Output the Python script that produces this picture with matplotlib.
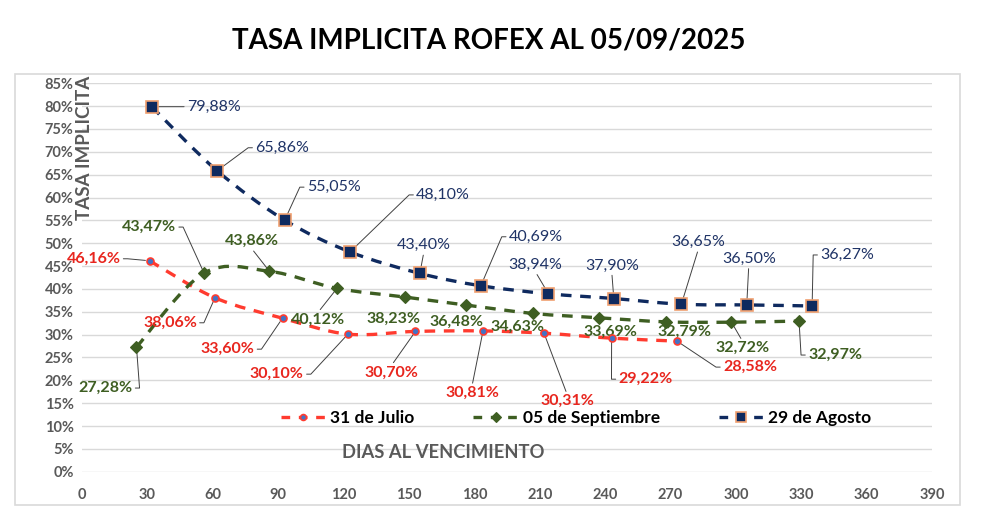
import matplotlib
matplotlib.use("Agg")
import matplotlib.pyplot as plt
from matplotlib.path import Path
from matplotlib.patches import PathPatch, Rectangle
import numpy as np

plt.rcParams['font.family'] = ['Lato', 'DejaVu Sans']

# ---------------- data ----------------
title = "TASA IMPLICITA ROFEX AL 05/09/2025"
series_names = ["31 de Julio", "05 de Septiembre", "29 de Agosto"]

julio_days = [31, 61, 92, 122, 153, 184, 212, 243, 273]
julio_vals = [46.16, 38.06, 33.60, 30.10, 30.70, 30.81, 30.31, 29.22, 28.58]

sept_days = [25, 56, 86, 117, 148, 176, 207, 237, 268, 298, 329]
sept_vals = [27.28, 43.47, 43.86, 40.12, 38.23, 36.48, 34.63, 33.69, 32.79, 32.72, 32.97]

agosto_days = [32, 62, 93, 123, 155, 183, 214, 244, 275, 305, 335]
agosto_vals = [79.88, 65.86, 55.05, 48.10, 43.40, 40.69, 38.94, 37.90, 36.65, 36.50, 36.27]

x_ticks = list(range(0, 391, 30))
y_ticks = list(range(0, 86, 5))

# ---------------- layout / style ----------------
# label offsets in pixels relative to each point (x right, y up)
julio_offsets = [(-56, 2), (-45, -25), (-55, -31), (-71, -40), (-24, -41),
                 (-11, -62), (23, -68), (34, -41), (73, -26)]
sept_offsets = [(-31, -41), (-55, 46), (-18, 30), (-19, -31), (-11, -22),
                (-9, -17), (-16, -13), (12, -14), (18, -10), (11, -26), (36, -34)]
agosto_offsets = [(62, 0), (65, 23), (49, 33), (93, 57), (4, 28), (55, 49),
                  (-13, 29), (-2, 33), (17, 62), (2, 46), (35, 51)]
sept_leader = [True, True, True, True, False, False, False, False, False, True, True]

RED = '#FF3B2F'
RED_TXT = '#E8261E'
GREEN = '#3E5E22'
NAVY = '#0F2A5F'
NAVY_TXT = '#1F3366'
GRAY = '#595959'

fig = plt.figure(figsize=(9.81, 5.27), dpi=100)
fig.patch.set_facecolor('white')
fig.patches.append(Rectangle((15 / 981, 1 - 505 / 527), 945 / 981, 431 / 527,
                             transform=fig.transFigure, fill=False,
                             edgecolor='#D9D9D9', linewidth=1.2, zorder=0))

ax = fig.add_axes([82 / 981, 1 - 471.7 / 527, 850 / 981, 388.4 / 527])
ax.set_xlim(0, 390)
ax.set_ylim(0, 85)
for s in ax.spines.values():
    s.set_visible(False)
ax.set_xticks(x_ticks)
ax.set_yticks(y_ticks)
ax.set_xticklabels([str(v) for v in x_ticks])
ax.set_yticklabels([f"{v}%" for v in y_ticks])
ax.tick_params(length=0, labelsize=10.5, labelcolor=GRAY, pad=6)
for lab in ax.get_xticklabels() + ax.get_yticklabels():
    lab.set_fontweight('bold')
ax.xaxis.set_tick_params(pad=12)
ax.grid(axis='y', color='#D9D9D9', linewidth=1.0, zorder=0)
ax.set_axisbelow(True)


def smooth_path(xs, ys):
    xs = np.asarray(xs, float)
    ys = np.asarray(ys, float)
    n = len(xs)
    verts = [(xs[0], ys[0])]
    codes = [Path.MOVETO]
    for i in range(n - 1):
        x0, y0 = (xs[i - 1], ys[i - 1]) if i > 0 else (xs[i], ys[i])
        x1, y1 = xs[i], ys[i]
        x2, y2 = xs[i + 1], ys[i + 1]
        x3, y3 = (xs[i + 2], ys[i + 2]) if i + 2 < n else (x2, y2)
        c1 = (x1 + (x2 - x0) / 6, y1 + (y2 - y0) / 6)
        c2 = (x2 - (x3 - x1) / 6, y2 - (y3 - y1) / 6)
        verts += [c1, c2, (x2, y2)]
        codes += [Path.CURVE4] * 3
    return Path(verts, codes)


def draw_series(days, vals, color, dashes, lw, marker, ms, mfc, mec, mew, label):
    patch = PathPatch(smooth_path(days, vals), fill=False, edgecolor=color,
                      linewidth=lw, linestyle=(0, dashes), zorder=3,
                      capstyle='butt')
    ax.add_patch(patch)
    ax.plot(days, vals, linestyle='none', marker=marker, markersize=ms,
            markerfacecolor=mfc, markeredgecolor=mec, markeredgewidth=mew,
            zorder=5)
    # legend proxy
    ax.plot([], [], color=color, linewidth=lw, linestyle=(0, (2.6, 2.6)),
            marker=marker, markersize=ms * 0.85, markerfacecolor=mfc,
            markeredgecolor=mec, markeredgewidth=mew, label=label)


draw_series(julio_days, julio_vals, RED, (3.2, 2.6), 2.4, 'o', 5,
            '#4472C4', RED, 1.2, series_names[0])
draw_series(sept_days, sept_vals, GREEN, (3.2, 2.6), 2.4, 'D', 6.5,
            GREEN, GREEN, 0.8, series_names[1])
draw_series(agosto_days, agosto_vals, NAVY, (3.2, 2.6), 2.4, 's', 8.5,
            NAVY, '#F0A070', 1.2, series_names[2])


def fmt(v):
    return f"{v:.2f}".replace('.', ',') + '%'


def add_labels(days, vals, offsets, color, weight, leaders=None):
    for i, (d, v, off) in enumerate(zip(days, vals, offsets)):
        dx, dy = off
        draw = True if leaders is None else leaders[i]
        kw = {}
        if draw:
            if abs(dx) >= 25:
                relpos = (0.0, 0.5) if dx > 0 else (1.0, 0.5)
                angA = 180 if dx > 0 else 0
                kw['arrowprops'] = dict(arrowstyle='-', color='#404040', lw=0.7,
                                        shrinkA=0, shrinkB=3, relpos=relpos,
                                        connectionstyle=f"arc,angleA={angA},armA=7,angleB=0,armB=0,rad=0")
            else:
                relpos = (0.5, 0.0) if dy > 0 else (0.5, 1.0)
                kw['arrowprops'] = dict(arrowstyle='-', color='#404040', lw=0.7,
                                        shrinkA=0, shrinkB=3, relpos=relpos)
        ax.annotate(fmt(v), xy=(d, v), xytext=(dx, dy), textcoords='offset pixels',
                    ha='center', va='center', fontsize=11.5, color=color,
                    fontweight=weight, zorder=4, **kw)


add_labels(julio_days, julio_vals, julio_offsets, RED_TXT, 'bold')
add_labels(sept_days, sept_vals, sept_offsets, GREEN, 'bold', sept_leader)
add_labels(agosto_days, agosto_vals, agosto_offsets, NAVY_TXT, 'normal')

# axis titles (inside the plot as in the reference)
fig.text(85 / 981, 1 - 148 / 527, "TASA IMPLICITA", rotation=90, ha='center',
         va='center', fontsize=13.5, fontweight='bold', color=GRAY)
fig.text(443 / 981, 1 - 452 / 527, "DIAS AL VENCIMIENTO", ha='center',
         va='center', fontsize=13.2, fontweight='bold', color=GRAY)

fig.text(489 / 981, 1 - 40 / 527, title, ha='center', va='center',
         fontsize=20, fontweight='bold', color='black')

leg = ax.legend(loc='center', bbox_to_anchor=((576 - 82) / 850, (471.7 - 418) / 388.4),
                ncol=3, frameon=False, handlelength=2.6, columnspacing=3.4,
                handletextpad=0.25, prop={'weight': 'bold', 'size': 12.5})

fig.savefig('out.png', dpi=100)
